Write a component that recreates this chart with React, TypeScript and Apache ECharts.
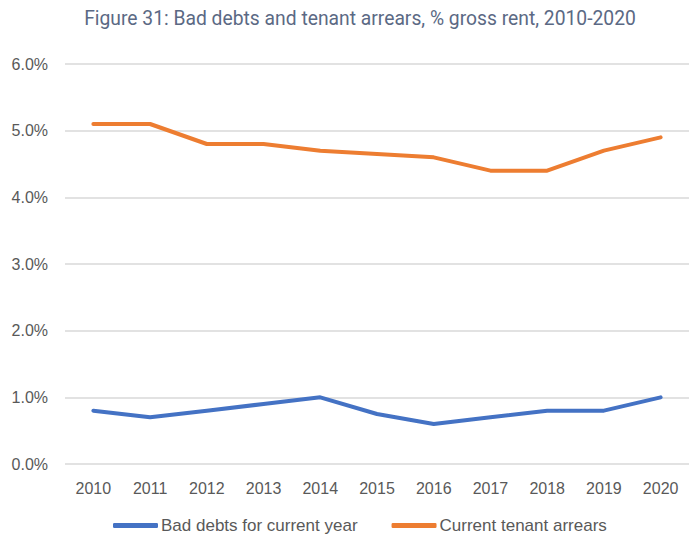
import React, { useEffect, useRef } from "react";
import * as echarts from "echarts";

const years = ["2010", "2011", "2012", "2013", "2014", "2015", "2016", "2017", "2018", "2019", "2020"];
const badDebts = [0.8, 0.7, 0.8, 0.9, 1.0, 0.75, 0.6, 0.7, 0.8, 0.8, 1.0];
const arrears = [5.1, 5.1, 4.8, 4.8, 4.7, 4.65, 4.6, 4.4, 4.4, 4.7, 4.9];
const seriesNames = ["Bad debts for current year", "Current tenant arrears"];
const titleText = "Figure 31: Bad debts and tenant arrears, % gross rent, 2010-2020";

export default function App() {
  const ref = useRef<HTMLDivElement>(null);
  useEffect(() => {
    if (!ref.current) return;
    const chart = echarts.init(ref.current, null, { renderer: "svg" });
    chart.setOption({
      animation: false,
      backgroundColor: "#ffffff",
      title: {
        text: titleText,
        left: 355,
        textAlign: "center",
        top: 4,
        textStyle: { fontFamily: "Roboto", fontSize: 19.3, fontWeight: "normal", color: "#5b6984" },
      },
      legend: {
        bottom: -4,
        left: 108,
        itemGap: 34,
        itemWidth: 45,
        itemHeight: 5,
        icon: "roundRect",
        textStyle: { fontFamily: "Liberation Sans", fontSize: 17, color: "#595959", padding: [0, 0, 0, -2] },
        data: seriesNames,
      },
      grid: { left: 65, top: 64, width: 627, height: 400, containLabel: false },
      xAxis: {
        type: "category",
        data: years,
        boundaryGap: true,
        axisLine: { show: false },
        axisTick: { show: false },
        axisLabel: { color: "#595959", fontFamily: "Liberation Sans", fontSize: 16, margin: 16 },
      },
      yAxis: {
        type: "value",
        min: 0,
        max: 6,
        interval: 1,
        axisLine: { show: false },
        axisTick: { show: false },
        splitLine: { lineStyle: { color: "#d9d9d9", width: 1.5 } },
        axisLabel: {
          color: "#595959",
          fontFamily: "Liberation Sans",
          fontSize: 16,
          margin: 17,
          formatter: (v: number) => v.toFixed(1) + "%",
        },
      },
      series: [
        {
          name: seriesNames[0],
          type: "line",
          data: badDebts,
          symbol: "none",
          lineStyle: { color: "#4472c4", width: 4, cap: "round" },
          itemStyle: { color: "#4472c4" },
        },
        {
          name: seriesNames[1],
          type: "line",
          data: arrears,
          symbol: "none",
          lineStyle: { color: "#ed7d31", width: 4, cap: "round" },
          itemStyle: { color: "#ed7d31" },
        },
      ],
    });
    return () => chart.dispose();
  }, []);
  return <div ref={ref} style={{ position: "fixed", left: 0, top: 0, width: 689, height: 535 }} />;
}
